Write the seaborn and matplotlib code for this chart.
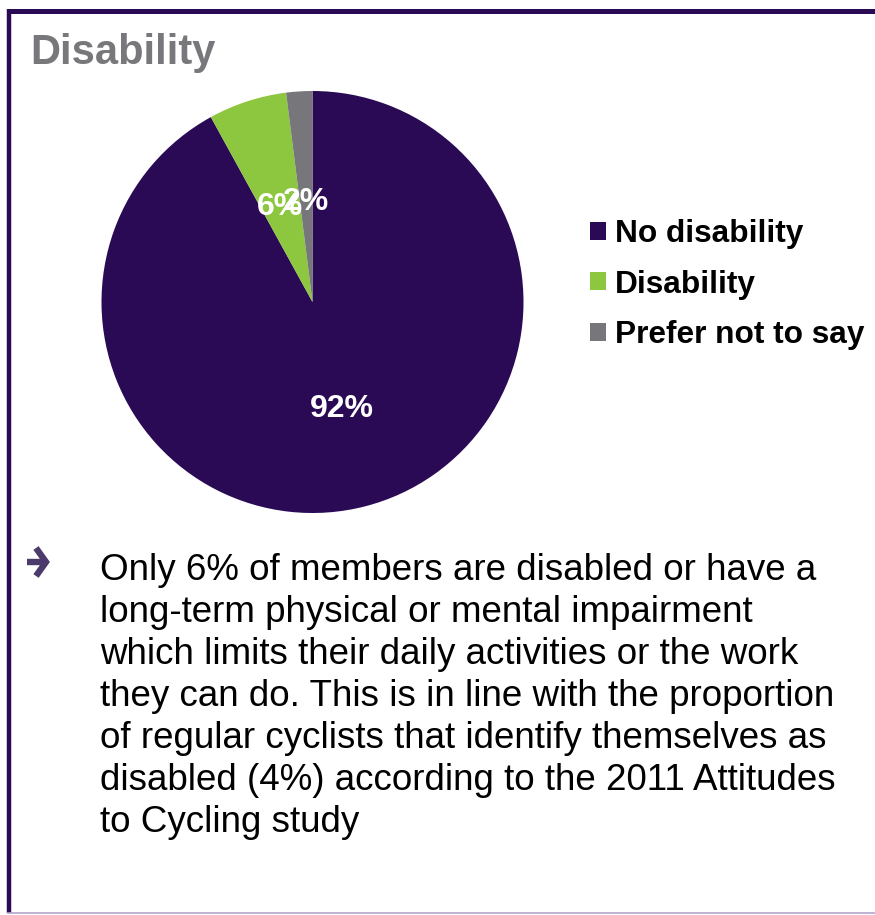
import matplotlib
matplotlib.use("Agg")
import matplotlib.pyplot as plt
import seaborn as sns
from matplotlib.patches import Patch
from matplotlib.lines import Line2D
from matplotlib.transforms import offset_copy

categories = ["No disability", "Disability", "Prefer not to say"]
values = [92, 6, 2]
colors = ["#2A0A55", "#8DC63F", "#77777B"]
title = "Disability"
body_lines = [
    "Only 6% of members are disabled or have a",
    "long-term physical or mental impairment",
    "which limits their daily activities or the work",
    "they can do. This is in line with the proportion",
    "of regular cyclists that identify themselves as",
    "disabled (4%) according to the 2011 Attitudes",
    "to Cycling study",
]

sns.set_theme(style="white")
plt.rcParams["font.family"] = ["Liberation Sans", "DejaVu Sans"]

W, H = 875, 915
fig = plt.figure(figsize=(W / 100, H / 100), dpi=100)
fig.patch.set_facecolor("white")


def fx(px):
    return px / W


def fy(py):
    return 1 - py / H


# pie axes
cx, cy, r = 312.5, 302, 211
ax = fig.add_axes([(cx - r) / W, (H - cy - r) / H, 2 * r / W, 2 * r / H])
wedges, _, autotexts = ax.pie(
    values, colors=colors, startangle=90, counterclock=False,
    autopct=lambda p: f"{p:.0f}%", pctdistance=0.5, radius=1,
    wedgeprops=dict(linewidth=0),
    textprops=dict(color="white", fontsize=23, fontweight="bold"),
)
for i, t in enumerate(autotexts):
    dx = 3 if i == 0 else 0
    t.set_transform(offset_copy(ax.transData, fig=fig, x=dx, y=-5, units="dots"))
ax.set_xlim(-1, 1)
ax.set_ylim(-1, 1)
ax.set_aspect("equal")
ax.axis("off")

# border
fig.add_artist(Line2D([fx(9), fx(9)], [fy(9), fy(913)], color="#2A0A55", lw=3.2,
                      transform=fig.transFigure, solid_capstyle="butt"))
fig.add_artist(Line2D([fx(7), 1.0], [fy(10.5), fy(10.5)], color="#2A0A55", lw=3.6,
                      transform=fig.transFigure, solid_capstyle="butt"))
fig.add_artist(Line2D([fx(7), 1.0], [fy(913), fy(913)], color="#B3A6CC", lw=1.2,
                      transform=fig.transFigure, solid_capstyle="butt"))

# title
fig.text(fx(30), fy(64), title, fontsize=30, fontweight="bold", color="#77777C",
         va="baseline", ha="left")

# legend
handles = [Patch(facecolor=c, edgecolor="none") for c in colors]
leg = fig.legend(handles, categories, loc="upper left", bbox_to_anchor=(fx(590), fy(219)),
                 frameon=False, prop=dict(size=22.8, weight="bold"),
                 handlelength=0.5, handleheight=0.5, handletextpad=0.28, labelspacing=0.65,
                 borderaxespad=0, borderpad=0)
for t in leg.get_texts():
    t.set_color("black")

# bullet arrow (drawn as strokes)
arrow_color = "#4B3A6B"
fig.add_artist(Line2D([fx(27), fx(45)], [fy(562), fy(562)], color=arrow_color, lw=4.6,
                      transform=fig.transFigure, solid_capstyle="butt"))
fig.add_artist(Line2D([fx(36), fx(46), fx(36)], [fy(548), fy(562), fy(576)], color=arrow_color,
                      lw=4.6, transform=fig.transFigure, solid_capstyle="butt",
                      solid_joinstyle="miter"))

# body text
y0 = 580
for i, line in enumerate(body_lines):
    fig.text(fx(100), fy(y0 + 42 * i), line, fontsize=26.5, color="black",
             va="baseline", ha="left")

fig.savefig("out.png", dpi=100, facecolor="white")
